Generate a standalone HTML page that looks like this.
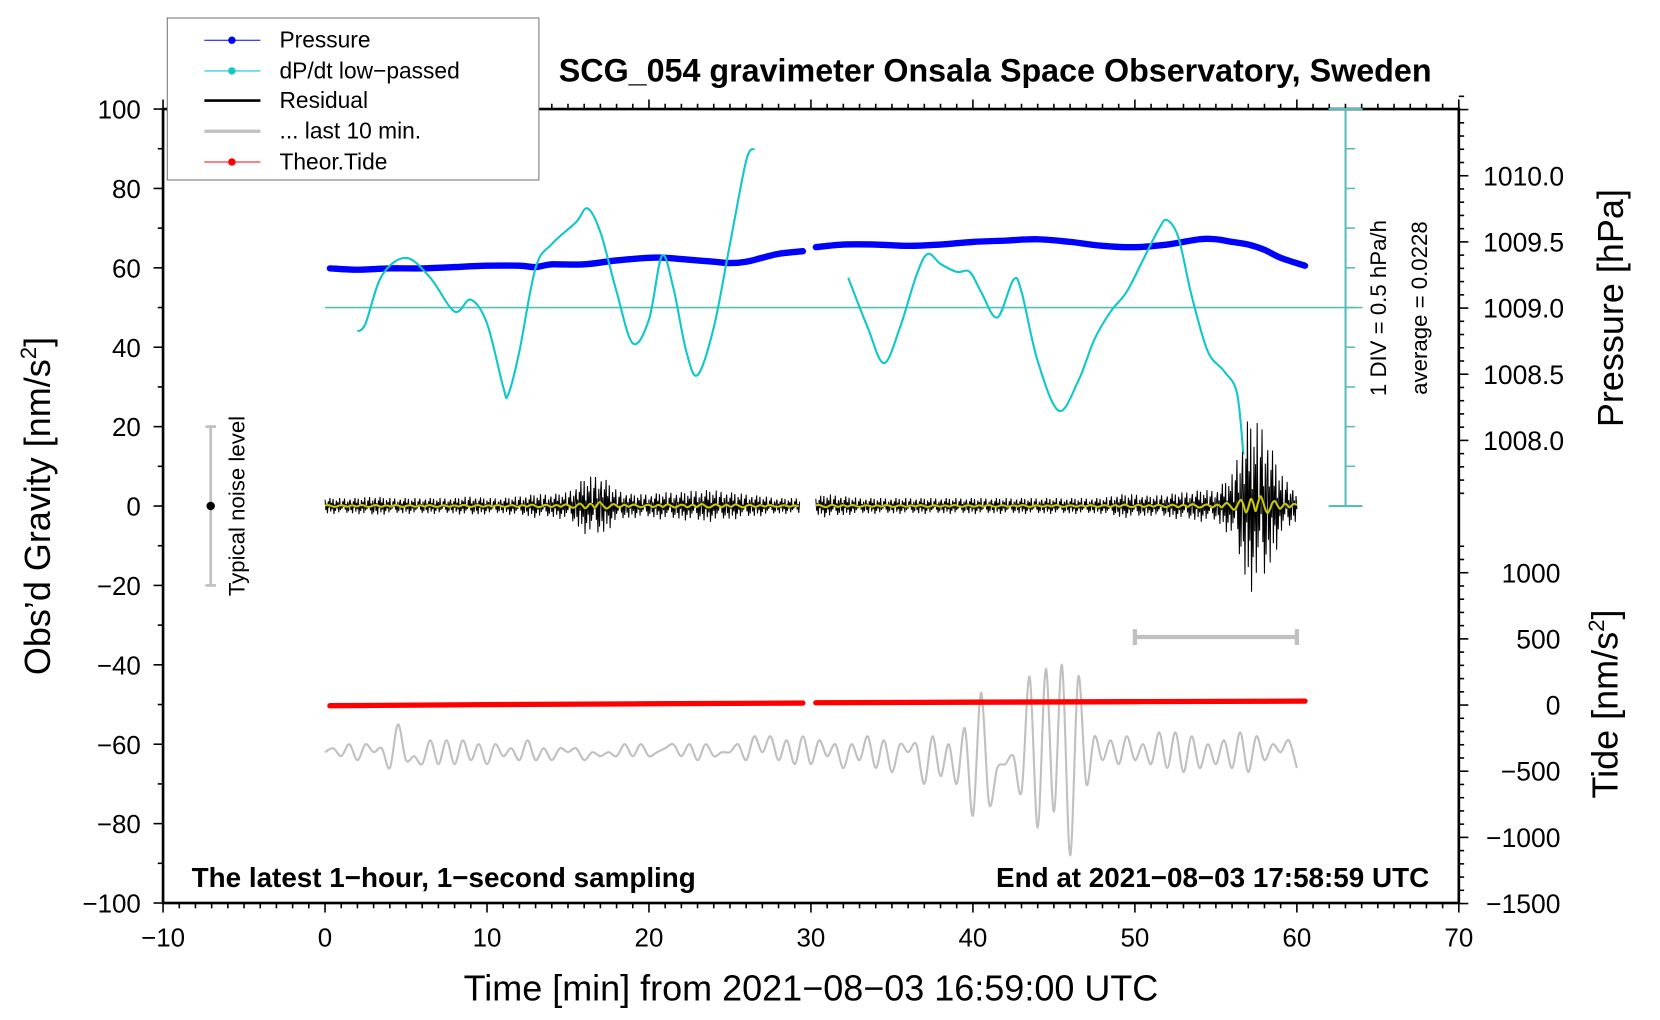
<!DOCTYPE html>
<html><head><meta charset="utf-8"><style>
html,body{margin:0;padding:0;background:#fff;}
svg{display:block;font-family:"Liberation Sans",sans-serif;}
</style></head><body>
<svg id="chart" width="1660" height="1020" viewBox="0 0 1568 963.5" xmlns="http://www.w3.org/2000/svg">
<g id="layer"></g>
</svg>
<script>
// ---- data arrays ----
const xTicks = [-10,0,10,20,30,40,50,60,70];
const yTicks = [100,80,60,40,20,0,-20,-40,-60,-80,-100];
const pressureTicks = ["1010.0","1009.5","1009.0","1008.5","1008.0"];
const tideTicks = [1000,500,0,-500,-1000,-1500];
// Pressure [hPa]
const pressTimes1 = [0.3,2,4,6,8,10,12,13,14,16,18,20,21,22,24,25,26,27,28,29.5];
const pressVals1  = [1009.30,1009.29,1009.30,1009.30,1009.31,1009.32,1009.32,1009.31,1009.33,1009.33,1009.36,1009.38,1009.38,1009.37,1009.35,1009.34,1009.35,1009.38,1009.41,1009.43];
const pressTimes2 = [30.3,32,34,36,38,40,42,44,46,48,50,52,54,55,56,57,58,59,60.5];
const pressVals2  = [1009.46,1009.48,1009.48,1009.47,1009.48,1009.50,1009.51,1009.52,1009.50,1009.47,1009.46,1009.48,1009.52,1009.52,1009.50,1009.48,1009.44,1009.38,1009.32];
// dP/dt low-passed (gravity-axis units, 50 = zero line)
const dpTimes1 = [2,2.5,3.5,5,6.5,8,9,10,11,11.3,12,13,14,15.5,16.2,17,18,19,20,20.8,21.5,22.3,23,24,25,26,26.5];
const dpVals1  = [44,46,58,62.5,57.5,49,52,46,30,28,39,60,66,71.5,75,69,54,41,47,63,55,39,33,45,66,87,90];
const dpTimes2 = [32.3,33.5,34.5,35.5,36.5,37.2,38,39,39.8,40.5,41.5,42.5,43,44,45.3,46.5,47.5,48.5,49.5,50.5,51.5,52,52.7,53.5,54.5,55.5,56.3,56.7];
const dpVals2  = [57.5,45,36,45,58,63.5,61,59,59,54,47.5,57,54,36.5,24,31.5,42,49,54,62,70,72,67.5,53,39,34,28.5,13];
// residual amplitude envelope per minute (nm/s^2), t=0..60
const residEnv = [2,2,2,2.5,2,2,2,2,2,2.5,2,2,2.5,3,3,3.5,7,8,4,3,3,3.5,3.5,4,4,3.5,3,2.5,2,2,2,3,2.5,2,2,2,2,2,2,2,2,2,2,2,2,2,2,2,2,3,3,2.5,3,3.5,4,4,8,22,20,8,4];
const residPattern = [0.8,-0.5,0.3,-0.9,0.6,-0.2,1,-0.7,0.4,-0.4,0.9,-1,0.2,-0.6,0.7,-0.3,0.5,-0.8,1,-0.5,0.1,-0.3,0.6,-0.1,0.95,-0.45,0.25,-0.85,0.55,-0.65,0.35];
const smoothPattern = [0.2,0.6,0.3,-0.2,-0.5,-0.2,0.3,0.5,0.1,-0.4,-0.1,0.4,0.2,-0.3];
// last 10 min (expanded), per 0.5 min, t=0..60 (gravity-axis units)
const lastVals = [-62,-61,-63,-60,-64,-60,-62,-61,-66,-55,-64,-63,-65,-59,-65,-59,-65,-59,-64,-60,-65,-60,-63,-61,-64,-59,-64,-61,-64,-61,-62,-61,-64,-62,-63,-62,-63,-60,-63,-60,-63,-62,-61,-60,-63,-60,-64,-60,-63,-62,-62,-60,-64,-58,-62,-58,-64,-59,-65,-58,-65,-59,-63,-60,-66,-60,-64,-58,-66,-59,-67,-60,-62,-60,-70,-58,-68,-60,-70,-56,-78,-47,-75,-66,-65,-63,-72,-43,-81,-41,-77,-40,-88,-43,-70,-58,-64,-59,-65,-58,-64,-60,-65,-57,-66,-57,-67,-58,-66,-60,-65,-59,-66,-57,-67,-58,-64,-60,-62,-59,-66];
// theoretical tide [nm/s^2]
const tideTimes1 = [0.3,10,20,29.5];
const tideVals1  = [-5,3,10,15];
const tideTimes2 = [30.3,40,50,60.5];
const tideVals2  = [18,22,26,30];

// ---- axis functions ----
const X = t => 307 + (t) * 15.3;
const Y = g => 103 + (100 - g) * 3.75;
const YP = p => 291 - (p - 1009.0) * 125;
const YT = v => 666 - v * 0.125;

const NS = "http://www.w3.org/2000/svg";
const layer = document.getElementById('layer');
function mk(tag, attrs, parent){
  const e = document.createElementNS(NS, tag);
  for (const k in attrs) e.setAttribute(k, attrs[k]);
  (parent||layer).appendChild(e);
  return e;
}
function pts(ts, vs, f){ return ts.map((t,i)=>X(t).toFixed(1)+','+f(vs[i]).toFixed(1)).join(' '); }
function smoothPath(P){
  let d = 'M'+P[0][0].toFixed(1)+' '+P[0][1].toFixed(1);
  for (let i=0;i<P.length-1;i++){
    const p0=P[Math.max(i-1,0)], p1=P[i], p2=P[i+1], p3=P[Math.min(i+2,P.length-1)];
    const c1=[p1[0]+(p2[0]-p0[0])/6, p1[1]+(p2[1]-p0[1])/6];
    const c2=[p2[0]-(p3[0]-p1[0])/6, p2[1]-(p3[1]-p1[1])/6];
    d+=' C'+c1[0].toFixed(1)+' '+c1[1].toFixed(1)+' '+c2[0].toFixed(1)+' '+c2[1].toFixed(1)+' '+p2[0].toFixed(1)+' '+p2[1].toFixed(1);
  }
  return d;
}

// ---- axes frame ----
let e;
e = mk('rect',{x:154,y:103,width:1224,height:750,fill:'none',stroke:'#000','stroke-width':2.5});


for (let t=-10;t<=70;t++){
  const major = t%10===0;
  const l = major?9:5;
  e = mk('line',{x1:X(t),x2:X(t),y1:853,y2:853+l,stroke:'#000','stroke-width':1.5});
  
  
  e = mk('line',{x1:X(t),x2:X(t),y1:103,y2:103-l,stroke:'#000','stroke-width':1.5});
  
  
}
xTicks.forEach(v=>{
  e = mk('text',{x:X(v),y:894,'font-size':24.5,'text-anchor':'middle'});
  e.textContent = (v<0?'\u2212'+(-v):v);
  
  
});
for (let g=-100; g<=100; g+=10){
  const l = g%20===0?9:5;
  e = mk('line',{x1:154-l,x2:154,y1:Y(g),y2:Y(g),stroke:'#000','stroke-width':1.5});
  
  
}
yTicks.forEach(v=>{
  e = mk('text',{x:133,y:Y(v)+9,'font-size':24.5,'text-anchor':'end'});
  e.textContent = (v<0?'\u2212'+(-v):v);
  
  
});
for (let i=0;i<=30;i++){
  const p = 1007.6 + i*0.1;
  const major = Math.abs((p*2)-Math.round(p*2))<1e-6;
  const l = major?9:5;
  e = mk('line',{x1:1378,x2:1378+l,y1:YP(p),y2:YP(p),stroke:'#000','stroke-width':1.5});
  
  
}
pressureTicks.forEach(s=>{
  e = mk('text',{x:1401,y:YP(parseFloat(s))+9,'font-size':25});
  e.textContent = s;
  
  
});
for (let v=-1500; v<=1200; v+=100){
  const l = v%500===0?9:5;
  e = mk('line',{x1:1378,x2:1378+l,y1:YT(v),y2:YT(v),stroke:'#000','stroke-width':1.5});
  
  
}
tideTicks.forEach(v=>{
  e = mk('text',{x:1474,y:YT(v)+9,'font-size':25,'text-anchor':'end'});
  e.textContent = (v<0?'\u2212'+(-v):v);
  
  
});

// ---- dP/dt scale bar ----
const teal='#5bbcbc';
e = mk('line',{x1:1271,x2:1271,y1:103,y2:478,stroke:teal,'stroke-width':2});


[103,478].forEach(y=>{
  e = mk('line',{x1:1255,x2:1287,y1:y,y2:y,stroke:teal,'stroke-width':2});
  
  
});
for (let k=1;k<10;k++){
  const y = 103 + k*37.5;
  e = mk('line',{x1:1271,x2:1280,y1:y,y2:y,stroke:teal,'stroke-width':1.5});
  
  
}
e = mk('line',{x1:307,x2:1287,y1:Y(50),y2:Y(50),stroke:teal,'stroke-width':1.5});



// ---- pressure ----
[[pressTimes1,pressVals1],[pressTimes2,pressVals2]].forEach(([ts,vs])=>{
  e = mk('path',{d:smoothPath(ts.map((t,i)=>[X(t),YP(vs[i])])),fill:'none',stroke:'#0000ff','stroke-width':6,'stroke-linejoin':'round','stroke-linecap':'round'});
  
  
});

// ---- dP/dt ----
[[dpTimes1,dpVals1],[dpTimes2,dpVals2]].forEach(([ts,vs])=>{
  e = mk('path',{d:smoothPath(ts.map((t,i)=>[X(t),Y(vs[i])])),fill:'none',stroke:'#10c8c8','stroke-width':2});
  
  
});

// ---- residual ----
function env(t){ const i=Math.floor(t); const f=t-i; const a=residEnv[Math.min(i,60)], b=residEnv[Math.min(i+1,60)]; return a+(b-a)*f; }
[[0,29.3],[30.3,60]].forEach(([a,b])=>{
  let p=[], q=[], k=0;
  for (let t=a; t<=b+1e-9; t+=0.05, k++){
    p.push(X(t).toFixed(1)+','+Y(env(t)*residPattern[k%residPattern.length]).toFixed(1));
    if (k%3===0) q.push([X(t),Y(env(t)*0.2*smoothPattern[(k/3)%smoothPattern.length])]);
  }
  e = mk('polyline',{points:p.join(' '),fill:'none',stroke:'#000','stroke-width':1});
  
  
  e = mk('path',{d:smoothPath(q),fill:'none',stroke:'#c8c800','stroke-width':2});
  
  
});

// ---- last 10 min ----
e = mk('path',{d:smoothPath(lastVals.map((v,i)=>[X(i*0.5),Y(v)])),fill:'none',stroke:'#c0c0c0','stroke-width':2});


e = mk('path',{d:`M${X(50)} ${Y(-33)}H${X(60)}M${X(50)} ${Y(-31)}V${Y(-35)}M${X(60)} ${Y(-31)}V${Y(-35)}`,stroke:'#c0c0c0','stroke-width':4,fill:'none'});



// ---- tide ----
[[tideTimes1,tideVals1],[tideTimes2,tideVals2]].forEach(([ts,vs])=>{
  e = mk('polyline',{points:pts(ts,vs,YT),fill:'none',stroke:'#ff0000','stroke-width':5,'stroke-linecap':'round'});
  
  
});

// ---- noise level marker ----
e = mk('path',{d:`M199 ${Y(20)}V${Y(-20)}M194 ${Y(20)}H204M194 ${Y(-20)}H204`,stroke:'#c0c0c0','stroke-width':2.5,fill:'none'});


e = mk('circle',{cx:199,cy:Y(0),r:4,fill:'#000'});


</script>
<svg style="position:absolute;left:0;top:0" width="1660" height="1020" viewBox="0 0 1568 963.5">
<text x="940" y="77" font-size="30.5" font-weight="bold" text-anchor="middle" font-family="Liberation Sans, sans-serif">SCG_054 gravimeter Onsala Space Observatory, Sweden</text>
<text x="766" y="945" font-size="34" text-anchor="middle" font-family="Liberation Sans, sans-serif">Time [min] from 2021−08−03 16:59:00 UTC</text>
<text transform="translate(47,478) rotate(-90)" font-size="34" text-anchor="middle" font-family="Liberation Sans, sans-serif">Obs’d Gravity [nm/s<tspan font-size="21" dy="-13">2</tspan><tspan dy="13">]</tspan></text>
<text transform="translate(1533,291) rotate(-90)" font-size="34" text-anchor="middle" font-family="Liberation Sans, sans-serif">Pressure [hPa]</text>
<text transform="translate(1528,665) rotate(-90)" font-size="34" text-anchor="middle" font-family="Liberation Sans, sans-serif">Tide [nm/s<tspan font-size="21" dy="-13">2</tspan><tspan dy="13">]</tspan></text>
<text transform="translate(1309,291) rotate(-90)" font-size="21" text-anchor="middle" font-family="Liberation Sans, sans-serif">1 DIV = 0.5 hPa/h</text>
<text transform="translate(1348,291) rotate(-90)" font-size="21" text-anchor="middle" font-family="Liberation Sans, sans-serif">average = 0.0228</text>
<text transform="translate(231,478) rotate(-90)" font-size="21" text-anchor="middle" font-family="Liberation Sans, sans-serif">Typical noise level</text>
<text x="181" y="838" font-size="26.3" font-weight="bold" font-family="Liberation Sans, sans-serif">The latest 1−hour, 1−second sampling</text>
<text x="1350" y="838" font-size="26.3" font-weight="bold" text-anchor="end" font-family="Liberation Sans, sans-serif">End at 2021−08−03 17:58:59 UTC</text>
<g font-family="Liberation Sans, sans-serif" font-size="21.5">
<rect x="158" y="17" width="351" height="153" fill="#fff" stroke="#777" stroke-width="1"/>
<g><line x1="193" x2="246" y1="38" y2="38" stroke="#0000ff" stroke-width="1"/><circle cx="219" cy="38" r="3.5" fill="#0000ff"/><text x="264" y="45">Pressure</text></g>
<g><line x1="193" x2="246" y1="67" y2="67" stroke="#10c8c8" stroke-width="1"/><circle cx="219" cy="67" r="3.5" fill="#10c8c8"/><text x="264" y="74">dP/dt low−passed</text></g>
<g><line x1="193" x2="246" y1="95" y2="95" stroke="#000" stroke-width="2.5"/><text x="264" y="102">Residual</text></g>
<g><line x1="193" x2="246" y1="124" y2="124" stroke="#c0c0c0" stroke-width="3"/><text x="264" y="131">... last 10 min.</text></g>
<g><line x1="193" x2="246" y1="153" y2="153" stroke="#ff0000" stroke-width="1"/><circle cx="219" cy="153" r="3.5" fill="#ff0000"/><text x="264" y="160">Theor.Tide</text></g>
</g>
</svg>
</body></html>
